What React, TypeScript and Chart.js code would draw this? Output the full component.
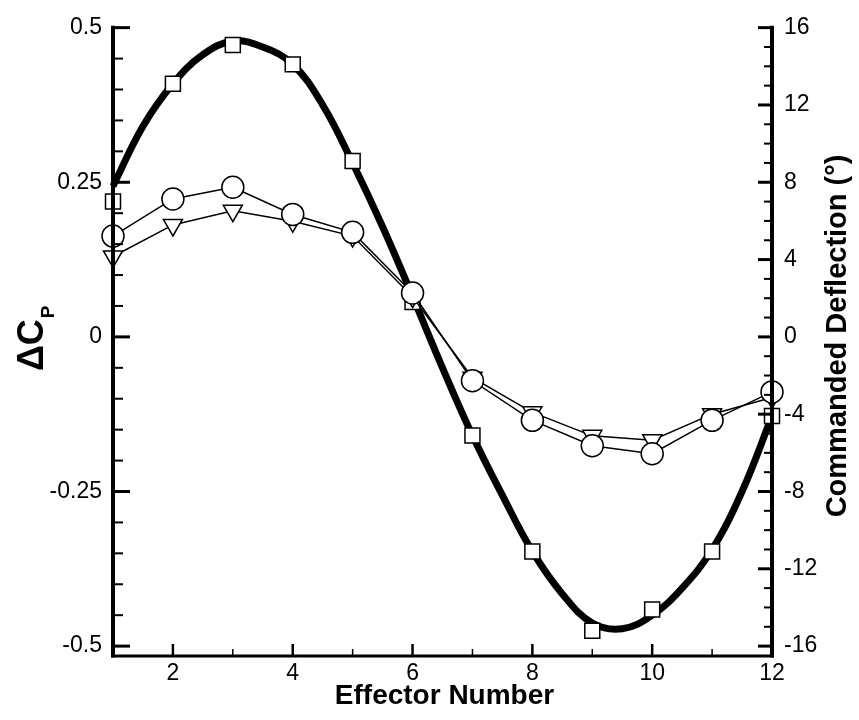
import { useEffect, useRef } from "react";
import { Chart, registerables } from "chart.js";

Chart.register(...registerables);

// ---- data ----
const EFFECTORS = [1, 2, 3, 4, 5, 6, 7, 8, 9, 10, 11, 12];
const DEFLECTION_DEG = [7.0, 13.1, 15.1, 14.1, 9.1, 1.8, -5.1, -11.1, -15.2, -14.1, -11.1, -4.1];
const DCP_CIRCLES = [0.163, 0.223, 0.242, 0.198, 0.169, 0.071, -0.071, -0.135, -0.176, -0.189, -0.135, -0.089];
const DCP_TRIANGLES = [0.13, 0.181, 0.204, 0.187, 0.163, 0.065, -0.066, -0.122, -0.16, -0.167, -0.125, -0.098];
const CURVE_X = [1, 1.5, 2, 2.5, 3, 3.5, 4, 4.5, 5, 5.5, 6, 6.5, 7, 7.5, 8, 8.5, 9, 9.5, 10, 10.5, 11, 11.5, 12];
const CURVE_DEG = [7.8, 10.9, 13.1, 14.6, 15.3, 15.0, 14.1, 12.0, 9.0, 5.7, 2.1, -1.6, -5.1, -8.2, -11.1, -13.3, -14.8, -15.1, -14.4, -13.0, -11.0, -8.0, -4.1];

const X_TICKS = [2, 4, 6, 8, 10, 12];
const X_MINOR = [3, 5, 7, 9, 11];
const LEFT_TICKS = [-0.5, -0.25, 0, 0.25, 0.5];
const RIGHT_TICKS = [-16, -12, -8, -4, 0, 4, 8, 12, 16];

const LEFT_MIN = -0.516;
const LEFT_MAX = 0.503;
const RIGHT_MIN = LEFT_MIN * 32;
const RIGHT_MAX = LEFT_MAX * 32;

const FONT = "'Liberation Sans', Arial, sans-serif";

const axesPlugin = {
  id: "customAxes",
  afterDatasetsDraw(chart: any) {
    const { ctx, chartArea } = chart;
    const { left, right, top, bottom } = chartArea;
    const yL = chart.scales.y;
    const yR = chart.scales.y2;
    const x = chart.scales.x;
    ctx.save();
    ctx.strokeStyle = "#000";
    ctx.lineCap = "butt";

    // axis lines
    ctx.lineWidth = 4;
    ctx.beginPath();
    ctx.moveTo(left, top);
    ctx.lineTo(left, bottom + 1.5);
    ctx.moveTo(right, top);
    ctx.lineTo(right, bottom + 1.5);
    ctx.stroke();
    ctx.lineWidth = 3;
    ctx.beginPath();
    ctx.moveTo(left - 2, bottom);
    ctx.lineTo(right + 2, bottom);
    ctx.stroke();

    // left ticks
    for (let i = -10; i <= 10; i++) {
      const v = i * 0.05;
      const major = i % 5 === 0;
      const py = yL.getPixelForValue(v);
      ctx.lineWidth = major ? 3 : 2;
      ctx.beginPath();
      ctx.moveTo(left, py);
      ctx.lineTo(left + (major ? 17 : 10), py);
      ctx.stroke();
    }
    // right ticks
    for (let v = -16; v <= 16; v++) {
      const major = v % 4 === 0;
      const py = yR.getPixelForValue(v);
      ctx.lineWidth = major ? 3 : 2;
      ctx.beginPath();
      ctx.moveTo(right, py);
      ctx.lineTo(right - (major ? 14 : 8), py);
      ctx.stroke();
    }
    // bottom ticks
    X_TICKS.forEach((v) => {
      const px = x.getPixelForValue(v);
      ctx.lineWidth = 2.5;
      ctx.beginPath();
      ctx.moveTo(px, bottom);
      ctx.lineTo(px, bottom - 12);
      ctx.stroke();
    });
    X_MINOR.forEach((v) => {
      const px = x.getPixelForValue(v);
      ctx.lineWidth = 1.5;
      ctx.beginPath();
      ctx.moveTo(px, bottom);
      ctx.lineTo(px, bottom - 7);
      ctx.stroke();
    });

    // titles
    ctx.fillStyle = "#000";
    ctx.font = `bold 28px ${FONT}`;
    ctx.textAlign = "center";
    ctx.textBaseline = "middle";
    ctx.fillText("Effector Number", (left + right) / 2 + 2, 696);

    // right title (reads bottom to top)
    ctx.save();
    ctx.translate(846, (top + bottom) / 2 - 5);
    ctx.rotate(-Math.PI / 2);
    ctx.font = `bold 29px ${FONT}`;
    ctx.textAlign = "center";
    ctx.textBaseline = "alphabetic";
    ctx.fillText("Commanded Deflection (°)", 0, 0);
    ctx.restore();

    // left title ΔC_P
    ctx.save();
    ctx.translate(43, 371);
    ctx.rotate(-Math.PI / 2);
    ctx.textAlign = "left";
    ctx.textBaseline = "alphabetic";
    ctx.font = `bold 36px ${FONT}`;
    ctx.fillText("ΔC", 0, 0);
    const w = ctx.measureText("ΔC").width;
    ctx.font = `bold 19px ${FONT}`;
    ctx.fillText("P", w + 1, 11);
    ctx.restore();

    ctx.restore();
  },
};

export default function App() {
  const ref = useRef<HTMLCanvasElement>(null);

  useEffect(() => {
    if (!ref.current) return;
    const chart = new Chart(ref.current, {
      type: "line",
      data: {
        datasets: [
          {
            label: "circles",
            data: EFFECTORS.map((e, i) => ({ x: e, y: DCP_CIRCLES[i] })),
            yAxisID: "y",
            borderColor: "#000",
            borderWidth: 1.5,
            pointStyle: "circle",
            pointRadius: 11,
            pointBorderWidth: 1.5,
            pointBackgroundColor: "#fff",
            pointBorderColor: "#000",
            tension: 0,
            clip: false,
            order: 0,
          },
          {
            label: "triangles",
            data: EFFECTORS.map((e, i) => ({ x: e, y: DCP_TRIANGLES[i] })),
            yAxisID: "y",
            borderColor: "#000",
            borderWidth: 1.5,
            pointStyle: "triangle",
            pointRotation: 180,
            pointRadius: 11,
            pointBorderWidth: 1.5,
            pointBackgroundColor: "#fff",
            pointBorderColor: "#000",
            tension: 0,
            clip: false,
            order: 1,
          },
          {
            label: "commanded",
            data: EFFECTORS.map((e, i) => ({ x: e, y: DEFLECTION_DEG[i] })),
            yAxisID: "y2",
            showLine: false,
            pointStyle: "rect",
            pointRadius: 10.6,
            pointBorderWidth: 1.5,
            pointBackgroundColor: "#fff",
            pointBorderColor: "#000",
            clip: false,
            order: 2,
          },
          {
            label: "fit",
            data: CURVE_X.map((e, i) => ({ x: e, y: CURVE_DEG[i] })),
            yAxisID: "y2",
            borderColor: "#000",
            borderWidth: 7,
            pointRadius: 0,
            tension: 0.4,
            clip: false,
            order: 3,
          },
        ],
      },
      options: {
        animation: false,
        responsive: true,
        maintainAspectRatio: false,
        events: [],
        layout: { padding: { top: 20, left: 0, right: 0, bottom: 0 } },
        plugins: { legend: { display: false }, tooltip: { enabled: false } },
        scales: {
          x: {
            type: "linear",
            min: 1,
            max: 12,
            grid: { display: false, drawTicks: false },
            border: { display: false },
            afterBuildTicks: (s: any) => {
              s.ticks = X_TICKS.map((v) => ({ value: v }));
            },
            afterFit: (s: any) => {
              s.height = 64;
            },
            ticks: {
              autoSkip: false,
              maxRotation: 0,
              padding: 4,
              color: "#000",
              font: { family: FONT, size: 23 },
              callback: (v: any) => String(v),
            },
          },
          y: {
            type: "linear",
            position: "left",
            min: LEFT_MIN,
            max: LEFT_MAX,
            grid: { display: false, drawTicks: false },
            border: { display: false },
            afterBuildTicks: (s: any) => {
              s.ticks = LEFT_TICKS.map((v) => ({ value: v }));
            },
            afterFit: (s: any) => {
              s.width = 113;
            },
            ticks: {
              padding: 11,
              color: "#000",
              font: { family: FONT, size: 23 },
              callback: (v: any) => String(v),
            },
          },
          y2: {
            type: "linear",
            position: "right",
            min: RIGHT_MIN,
            max: RIGHT_MAX,
            grid: { display: false, drawTicks: false },
            border: { display: false },
            afterBuildTicks: (s: any) => {
              s.ticks = RIGHT_TICKS.map((v) => ({ value: v }));
            },
            afterFit: (s: any) => {
              s.width = 87;
            },
            ticks: {
              padding: 12,
              color: "#000",
              font: { family: FONT, size: 23 },
              callback: (v: any) => String(v),
            },
          },
        },
      },
      plugins: [axesPlugin],
    });
    return () => chart.destroy();
  }, []);

  return (
    <div style={{ position: "fixed", left: 0, top: 0, width: 859, height: 720, background: "#fff" }}>
      <canvas ref={ref} />
    </div>
  );
}
